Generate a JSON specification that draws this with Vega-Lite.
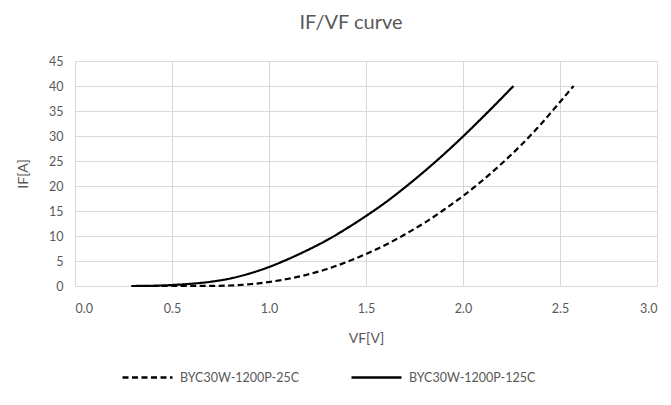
{
  "$schema": "https://vega.github.io/schema/vega-lite/v6.json",
  "width": 582,
  "height": 225,
  "autosize": "none",
  "padding": {"left": 75, "top": 61, "right": 14, "bottom": 119},
  "background": "white",
  "config": {
    "font": "Lato",
    "view": {"stroke": null},
    "axis": {"labelFont": "Lato", "titleFont": "Lato", "labelColor": "#595959", "titleColor": "#595959", "labelFontSize": 12.5, "titleFontSize": 14, "titleFontWeight": "normal", "gridColor": "#d9d9d9", "gridWidth": 1, "ticks": false, "domain": false}
  },
  "title": {"text": "IF/VF curve", "fontSize": 20, "fontWeight": "normal", "color": "#595959", "font": "Lato", "dx": -15, "offset": 22},
  "data": {"values": [
    {"s": "BYC30W-1200P-125C", "v": 0.29, "i": 0},
    {"s": "BYC30W-1200P-125C", "v": 0.4, "i": 0.05},
    {"s": "BYC30W-1200P-125C", "v": 0.5, "i": 0.2},
    {"s": "BYC30W-1200P-125C", "v": 0.6, "i": 0.45},
    {"s": "BYC30W-1200P-125C", "v": 0.7, "i": 0.85},
    {"s": "BYC30W-1200P-125C", "v": 0.8, "i": 1.5},
    {"s": "BYC30W-1200P-125C", "v": 0.9, "i": 2.5},
    {"s": "BYC30W-1200P-125C", "v": 1.0, "i": 3.8},
    {"s": "BYC30W-1200P-125C", "v": 1.1, "i": 5.4},
    {"s": "BYC30W-1200P-125C", "v": 1.2, "i": 7.2},
    {"s": "BYC30W-1200P-125C", "v": 1.3, "i": 9.2},
    {"s": "BYC30W-1200P-125C", "v": 1.4, "i": 11.5},
    {"s": "BYC30W-1200P-125C", "v": 1.5, "i": 14.0},
    {"s": "BYC30W-1200P-125C", "v": 1.6, "i": 16.7},
    {"s": "BYC30W-1200P-125C", "v": 1.7, "i": 19.7},
    {"s": "BYC30W-1200P-125C", "v": 1.8, "i": 22.9},
    {"s": "BYC30W-1200P-125C", "v": 1.9, "i": 26.3},
    {"s": "BYC30W-1200P-125C", "v": 2.0, "i": 29.9},
    {"s": "BYC30W-1200P-125C", "v": 2.1, "i": 33.7},
    {"s": "BYC30W-1200P-125C", "v": 2.2, "i": 37.6},
    {"s": "BYC30W-1200P-125C", "v": 2.26, "i": 40.0},
    {"s": "BYC30W-1200P-25C", "v": 0.3, "i": 0},
    {"s": "BYC30W-1200P-25C", "v": 0.5, "i": 0},
    {"s": "BYC30W-1200P-25C", "v": 0.7, "i": 0.02},
    {"s": "BYC30W-1200P-25C", "v": 0.8, "i": 0.1},
    {"s": "BYC30W-1200P-25C", "v": 0.9, "i": 0.35},
    {"s": "BYC30W-1200P-25C", "v": 1.0, "i": 0.8},
    {"s": "BYC30W-1200P-25C", "v": 1.1, "i": 1.45},
    {"s": "BYC30W-1200P-25C", "v": 1.2, "i": 2.3},
    {"s": "BYC30W-1200P-25C", "v": 1.3, "i": 3.4},
    {"s": "BYC30W-1200P-25C", "v": 1.4, "i": 4.8},
    {"s": "BYC30W-1200P-25C", "v": 1.5, "i": 6.4},
    {"s": "BYC30W-1200P-25C", "v": 1.6, "i": 8.2},
    {"s": "BYC30W-1200P-25C", "v": 1.7, "i": 10.3},
    {"s": "BYC30W-1200P-25C", "v": 1.8, "i": 12.6},
    {"s": "BYC30W-1200P-25C", "v": 1.9, "i": 15.2},
    {"s": "BYC30W-1200P-25C", "v": 2.0, "i": 18.0},
    {"s": "BYC30W-1200P-25C", "v": 2.1, "i": 21.1},
    {"s": "BYC30W-1200P-25C", "v": 2.2, "i": 24.5},
    {"s": "BYC30W-1200P-25C", "v": 2.3, "i": 28.2},
    {"s": "BYC30W-1200P-25C", "v": 2.4, "i": 32.3},
    {"s": "BYC30W-1200P-25C", "v": 2.5, "i": 36.8},
    {"s": "BYC30W-1200P-25C", "v": 2.57, "i": 40.0}
  ]},
  "mark": {"type": "line", "color": "black", "strokeWidth": 2.2, "interpolate": "monotone"},
  "encoding": {
    "x": {"field": "v", "type": "quantitative", "scale": {"domain": [0, 3], "nice": false}, "axis": {"values": [0, 0.5, 1, 1.5, 2, 2.5, 3], "format": ".1f", "title": "VF[V]", "labelPadding": 16, "titlePadding": 17}},
    "y": {"field": "i", "type": "quantitative", "scale": {"domain": [0, 45], "nice": false}, "axis": {"values": [0, 5, 10, 15, 20, 25, 30, 35, 40, 45], "title": "IF[A]", "labelPadding": 12, "titlePadding": 18}},
    "strokeDash": {"field": "s", "type": "nominal", "scale": {"domain": ["BYC30W-1200P-25C", "BYC30W-1200P-125C"], "range": [[6, 3.5], [1, 0]]},
      "legend": {"title": null, "orient": "none", "legendX": 46, "legendY": 290, "direction": "horizontal", "symbolType": "stroke", "symbolSize": 2500, "symbolStrokeWidth": 2.5, "symbolStrokeColor": "black", "labelFontSize": 12.5, "labelColor": "#595959", "labelFont": "Lato", "labelOffset": 6, "columnPadding": 46}}
  }
}
